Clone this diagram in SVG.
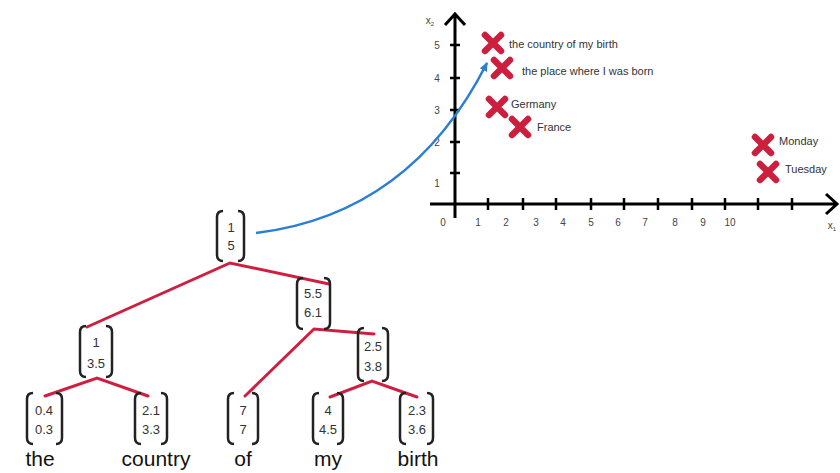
<svg xmlns="http://www.w3.org/2000/svg" width="840" height="473" viewBox="0 0 840 473">
<defs>
<marker id="ah" markerWidth="10" markerHeight="10" refX="8" refY="5" orient="auto" markerUnits="userSpaceOnUse"><path d="M0,1 L9,5 L0,9 z" fill="#2a7fd4"/></marker>
<g id="x"><path d="M-8,-8 L8,8 M8,-8 L-8,8" stroke="#cc1f3d" stroke-width="6.5" stroke-linecap="round"/></g>
</defs>
<style>
.ax{stroke:#000;stroke-width:3;fill:none}
.tk{stroke:#000;stroke-width:2.5}
.tl{font-family:"Liberation Sans",Arial,sans-serif;font-size:10px;fill:#444;text-anchor:middle}
.cl{font-family:"Liberation Sans",Arial,sans-serif;font-size:11px;fill:#333}
.br{stroke:#222;stroke-width:2.5;fill:none}
.nv{font-family:"Liberation Sans",Arial,sans-serif;font-size:13px;fill:#333;text-anchor:middle}
.wd{font-family:"Liberation Sans",Arial,sans-serif;font-size:21px;fill:#111;text-anchor:middle}
.ed{stroke:#cf1f40;stroke-width:3;fill:none;stroke-linecap:round}
</style>
<rect width="840" height="473" fill="#fff"/>
<g id="plot">
<path class="ax" d="M455,218 V15 M445,25 L455,14 L465,25"/>
<path class="ax" d="M430,204 H836 M826,194 L837,204 L826,214"/>
<path class="tk" d="M450,45 H460 M450,78 H460 M450,110 H460 M450,142 H460 M450,173 H460"/>
<path class="tk" d="M488,198 V210 M523,198 V210 M556,198 V210 M591,198 V210 M624,198 V210 M658,198 V210 M692,198 V210 M725,198 V210 M758,198 V210 M792,198 V210"/>
<text class="tl" x="430" y="24" font-size="9">x<tspan font-size="6" dy="2">2</tspan></text>
<text class="tl" x="437" y="49">5</text>
<text class="tl" x="437" y="82">4</text>
<text class="tl" x="437" y="114">3</text>
<text class="tl" x="437" y="146">2</text>
<text class="tl" x="437" y="187">1</text>
<text class="tl" x="443" y="226">0</text>
<text class="tl" x="478" y="226">1</text>
<text class="tl" x="506" y="226">2</text>
<text class="tl" x="536" y="226">3</text>
<text class="tl" x="563" y="226">4</text>
<text class="tl" x="591" y="226">5</text>
<text class="tl" x="618" y="226">6</text>
<text class="tl" x="645" y="226">7</text>
<text class="tl" x="675" y="226">8</text>
<text class="tl" x="703" y="226">9</text>
<text class="tl" x="730" y="226">10</text>
<text class="tl" x="832" y="229">x<tspan font-size="6" dy="2">1</tspan></text>
</g>
<g id="p1"><use href="#x" x="493" y="43"/><text class="cl" x="509" y="48">the country of my birth</text></g>
<g id="p2"><use href="#x" x="502" y="68"/><text class="cl" x="522" y="75">the place where I was born</text></g>
<g id="p3"><use href="#x" x="497" y="107"/><text class="cl" x="511" y="108">Germany</text></g>
<g id="p4"><use href="#x" x="520" y="127"/><text class="cl" x="537" y="131">France</text></g>
<g id="p5"><use href="#x" x="763" y="145"/><text class="cl" x="779" y="145">Monday</text></g>
<g id="p6"><use href="#x" x="768" y="172"/><text class="cl" x="785" y="173">Tuesday</text></g>
<g id="connectors">
<path d="M256,233 C380,218 448,140 487,63" stroke="#2a7fd4" stroke-width="2.5" fill="none" marker-end="url(#ah)"/>
<path class="ed" d="M87,327 L230,263 L329,284"/>
<path class="ed" d="M245,396 L314,329 L374,334"/>
<path class="ed" d="M45,396 L97,378 L148,396"/>
<path class="ed" d="M330,397 L372,381 L417,397"/>
</g>
<g id="n_root"><path class="br" d="M223,211 Q217,211 217,217 V255 Q217,261 223,261 M238,211 Q244,211 244,217 V255 Q244,261 238,261"/><text class="nv" x="231" y="232">1</text><text class="nv" x="231" y="250">5</text></g>
<g id="n_55"><path class="br" d="M303,278 Q297,278 297,284 V323 Q297,329 303,329 M324,278 Q330,278 330,284 V323 Q330,329 324,329"/><text class="nv" x="313" y="298">5.5</text><text class="nv" x="313" y="317">6.1</text></g>
<g id="n_1"><path class="br" d="M86,326 Q80,326 80,332 V371 Q80,377 86,377 M106,326 Q112,326 112,332 V371 Q112,377 106,377"/><text class="nv" x="96" y="347">1</text><text class="nv" x="96" y="368">3.5</text></g>
<g id="n_25"><path class="br" d="M364,328 Q358,328 358,334 V375 Q358,381 364,381 M382,328 Q388,328 388,334 V375 Q388,381 382,381"/><text class="nv" x="373" y="351">2.5</text><text class="nv" x="373" y="371">3.8</text></g>
<g id="n_the"><path class="br" d="M33,393 Q27,393 27,399 V438 Q27,444 33,444 M56,393 Q62,393 62,399 V438 Q62,444 56,444"/><text class="nv" x="44" y="415">0.4</text><text class="nv" x="44" y="434">0.3</text><text class="wd" x="40" y="466">the</text></g>
<g id="n_country"><path class="br" d="M141,393 Q135,393 135,399 V438 Q135,444 141,444 M161,393 Q167,393 167,399 V438 Q167,444 161,444"/><text class="nv" x="151" y="415">2.1</text><text class="nv" x="151" y="434">3.3</text><text class="wd" x="156" y="466">country</text></g>
<g id="n_of"><path class="br" d="M234,393 Q228,393 228,399 V438 Q228,444 234,444 M252,393 Q258,393 258,399 V438 Q258,444 252,444"/><text class="nv" x="243" y="415">7</text><text class="nv" x="243" y="434">7</text><text class="wd" x="243" y="466">of</text></g>
<g id="n_my"><path class="br" d="M319,393 Q313,393 313,399 V438 Q313,444 319,444 M337,393 Q343,393 343,399 V438 Q343,444 337,444"/><text class="nv" x="328" y="415">4</text><text class="nv" x="328" y="434">4.5</text><text class="wd" x="328" y="466">my</text></g>
<g id="n_birth"><path class="br" d="M406,393 Q400,393 400,399 V438 Q400,444 406,444 M427,393 Q433,393 433,399 V438 Q433,444 427,444"/><text class="nv" x="417" y="415">2.3</text><text class="nv" x="417" y="434">3.6</text><text class="wd" x="418" y="466">birth</text></g>
</svg>
